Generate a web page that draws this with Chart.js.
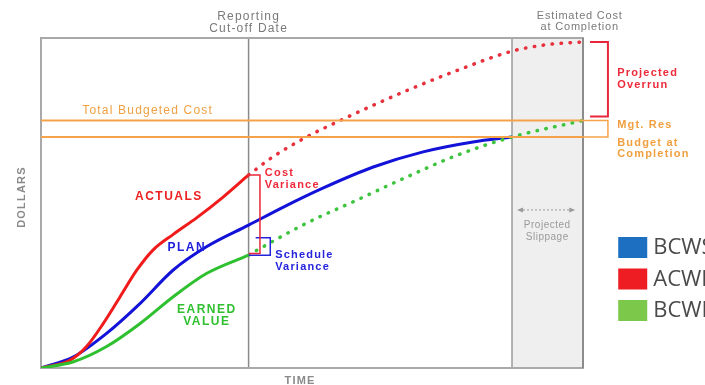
<!DOCTYPE html>
<html>
<head>
<meta charset="utf-8">
<script src="https://cdn.jsdelivr.net/npm/chart.js@4.4.0/dist/chart.umd.min.js"></script>
<style>
  html, body { margin: 0; padding: 0; background: #fff; }
  #wrap { width: 705px; height: 385px; position: relative; overflow: hidden; }
</style>
</head>
<body>
<div id="wrap"><canvas id="myChart"></canvas></div>
<script>
// time axis 0..100, dollars 0..100
const planTime  = [0, 6, 12.1, 18.3, 24.4, 30.6, 38.3, 45, 52, 61.3, 70.5, 79.7, 86.9];
const planValue = [0, 3.4, 10.5, 19.6, 29.7, 36.8, 43.3, 49, 54.5, 60.9, 65.5, 68.5, 70];

const actualTime  = [0, 5.4, 8.4, 11.5, 14.6, 17.7, 20.7, 24.4, 28.7, 33.6, 38.3];
const actualValue = [0, 2.4, 6.5, 13.5, 21.6, 29.7, 35.8, 40.5, 45.5, 51.8, 58.5];

const forecastTime  = [38.3, 42.8, 49, 55.2, 62.5, 68.1, 77.3, 86.9, 93.4, 100];
const forecastValue = [58.5, 64, 70, 75, 80.5, 84.5, 90.5, 96, 98, 98.8];

const earnedTime  = [0, 6, 12.1, 18.3, 24.4, 30.6, 38.3];
const earnedValue = [0, 1.9, 6.5, 13.5, 21.6, 28.7, 34.2];

const earnedProjTime  = [38.3, 40.4, 49, 58.3, 67.5, 76.8, 86.9, 100];
const earnedProjValue = [34.2, 36.2, 43.9, 50.9, 57.9, 64.5, 70, 75];

const cutoffTime = 38.3;
const slippageStart = 86.9;
const completionTime = 100;
const totalBudget = 75;
const budgetAtCompletion = 70;
const estimateAtCompletion = 98.8;

const legendLabels = ['BCWS', 'ACWP', 'BCWP'];
const legendColors = ['#1d6fc2', '#ee1d23', '#7cc84a'];

function pts(xs, ys){ return xs.map((x, i) => ({x: x, y: ys[i]})); }

// bracket shapes, built from the values above
const acLast = actualValue[actualValue.length-1];
const evLast = earnedValue[earnedValue.length-1];
const costBracket = pts([cutoffTime, 40.4, 40.4, cutoffTime], [acLast, acLast, evLast + 0.5, evLast + 0.5]);
const schedBracket = pts([39.6, 42.3, 42.3, cutoffTime], [39.5, 39.5, evLast, evLast]);
const overrunBracket = pts([101.3, 104.6, 104.6, 101.3], [estimateAtCompletion, estimateAtCompletion, totalBudget + 1.2, totalBudget + 1.2]);
const mgtBracket = pts([100, 104.6, 104.6, 100], [totalBudget, totalBudget, budgetAtCompletion, budgetAtCompletion]);

const solid = (data, color) => ({
    data: data, borderColor: color, borderWidth: 3, pointRadius: 0,
    cubicInterpolationMode: 'monotone', fill: false
});
const dotted = (data, color) => ({
    data: data, borderColor: color, borderWidth: 3.5, pointRadius: 0,
    borderDash: [0.5, 8.5], borderCapStyle: 'round',
    cubicInterpolationMode: 'monotone', fill: false, clip: false
});
const thin = (data, color, w) => ({
    data: data, borderColor: color, borderWidth: w, pointRadius: 0,
    tension: 0, fill: false, clip: false
});

const background = {
    id: 'background',
    beforeDatasetsDraw(chart){
        const c = chart.ctx, a = chart.chartArea;
        const X = v => chart.scales.x.getPixelForValue(v);
        c.save();
        // slippage band
        c.fillStyle = '#efefef';
        c.fillRect(X(slippageStart), a.top, X(completionTime) - X(slippageStart), a.bottom - a.top);
        c.strokeStyle = '#9a9a9a';
        c.lineWidth = 1.5;
        c.beginPath();
        c.moveTo(X(slippageStart), a.top); c.lineTo(X(slippageStart), a.bottom);
        c.stroke();
        // cut-off line
        c.strokeStyle = '#8a8a8a';
        c.beginPath();
        c.moveTo(X(cutoffTime), a.top); c.lineTo(X(cutoffTime), a.bottom);
        c.stroke();
        // frame
        c.strokeStyle = '#a9a9a9';
        c.lineWidth = 2;
        c.strokeRect(a.left, a.top, a.right - a.left, a.bottom - a.top);
        c.strokeStyle = '#8c8c8c';
        c.beginPath();
        c.moveTo(a.right, a.top); c.lineTo(a.right, a.bottom);
        c.stroke();
        c.restore();
    }
};

const labels = {
    id: 'labels',
    afterDatasetsDraw(chart){
        const c = chart.ctx, a = chart.chartArea;
        const X = v => chart.scales.x.getPixelForValue(v);
        const Y = v => chart.scales.y.getPixelForValue(v);
        const txt = (s, x, y, color, font, align, sp) => {
            c.fillStyle = color; c.font = font; c.textAlign = align || 'left';
            c.textBaseline = 'middle';
            c.letterSpacing = (sp === undefined ? 1.2 : sp) + 'px';
            c.fillText(s, x, y);
        };
        c.save();
        const f = 'Liberation Sans, Arial, sans-serif';
        txt('Reporting', X(cutoffTime), a.top - 21, '#7a7a7a', '12px ' + f, 'center');
        txt('Cut-off Date', X(cutoffTime), a.top - 9, '#7a7a7a', '12px ' + f, 'center');
        txt('Estimated Cost', X(99.4), a.top - 22, '#7a7a7a', '11px ' + f, 'center', 0.8);
        txt('at Completion', X(99.4), a.top - 11, '#7a7a7a', '11px ' + f, 'center', 0.8);
        txt('Total Budgeted Cost', X(7.6), Y(77.9), '#f0a040', '12px ' + f);
        txt('ACTUALS', X(23.6), Y(51.8), '#ee2020', 'bold 12px ' + f, 'center', 1.5);
        txt('PLAN', X(26.9), Y(36.4), '#2020dd', 'bold 12px ' + f, 'center', 1.5);
        txt('EARNED', X(30.6), Y(17.6), '#30c030', 'bold 12px ' + f, 'center', 1.5);
        txt('VALUE', X(30.6), Y(13.9), '#30c030', 'bold 12px ' + f, 'center', 1.5);
        txt('Cost', X(41.3), Y(59.1), '#ee2a3a', 'bold 11px ' + f);
        txt('Variance', X(41.3), Y(55.5), '#ee2a3a', 'bold 11px ' + f);
        txt('Schedule', X(43.2), Y(34.2), '#2424dd', 'bold 11px ' + f);
        txt('Variance', X(43.2), Y(30.6), '#2424dd', 'bold 11px ' + f);
        txt('Projected', X(106.3), Y(89.4), '#ee2a3a', 'bold 11px ' + f);
        txt('Overrun', X(106.3), Y(85.8), '#ee2a3a', 'bold 11px ' + f);
        txt('Mgt. Res', X(106.3), Y(73.6), '#f0a040', 'bold 11px ' + f);
        txt('Budget at', X(106.3), Y(68.2), '#f0a040', 'bold 11px ' + f);
        txt('Completion', X(106.3), Y(64.8), '#f0a040', 'bold 11px ' + f);
        // slippage arrow
        c.letterSpacing = '0px';
        c.strokeStyle = '#9a9a9a'; c.lineWidth = 1; c.setLineDash([2, 2]);
        c.beginPath(); c.moveTo(X(88.2), Y(47.9)); c.lineTo(X(98.2), Y(47.9)); c.stroke();
        c.setLineDash([]);
        c.fillStyle = '#9a9a9a';
        c.beginPath(); c.moveTo(X(88.2) - 2, Y(47.9)); c.lineTo(X(88.2) + 4, Y(47.9) - 2.5); c.lineTo(X(88.2) + 4, Y(47.9) + 2.5); c.fill();
        c.beginPath(); c.moveTo(X(98.2) + 2, Y(47.9)); c.lineTo(X(98.2) - 4, Y(47.9) - 2.5); c.lineTo(X(98.2) - 4, Y(47.9) + 2.5); c.fill();
        txt('Projected', X(93.4), Y(43.3), '#9a9a9a', '10px ' + f, 'center', 0.5);
        txt('Slippage', X(93.4), Y(39.7), '#9a9a9a', '10px ' + f, 'center', 0.5);
        // axis titles
        txt('TIME', X(47.8), a.bottom + 13, '#8a8a8a', 'bold 11px ' + f, 'center');
        c.save();
        c.translate(a.left - 19, Y(51.8));
        c.rotate(-Math.PI / 2);
        txt('DOLLARS', 0, 0, '#8a8a8a', 'bold 11px ' + f, 'center');
        c.restore();
        // legend
        legendLabels.forEach((s, i) => {
            const y = 247 + i * 31.5;
            c.fillStyle = legendColors[i];
            c.fillRect(X(106.5), y - 10, 29, 21);
            txt(s, X(106.5) + 35, y + 1, '#4a4a4a', '22px Open Sans, sans-serif', 'left', 0);
        });
        c.restore();
    }
};

const ctx = document.getElementById('myChart').getContext('2d');
const myChart = new Chart(ctx, {
    type: 'line',
    data: {
        datasets: [
            thin(pts([0, completionTime], [totalBudget, totalBudget]), '#f5a34a', 2),
            thin(pts([0, completionTime], [budgetAtCompletion, budgetAtCompletion]), '#f5a34a', 2),
            thin(mgtBracket, '#f5a34a', 1.5),
            thin(overrunBracket, '#e8283a', 2),
            thin(costBracket, '#e8283a', 1.5),
            thin(schedBracket, '#2424dd', 1.5),
            dotted(pts(forecastTime, forecastValue), '#e8303c'),
            dotted(pts(earnedProjTime, earnedProjValue), '#3cc43c'),
            solid(pts(earnedTime, earnedValue), '#2ec02e'),
            solid(pts(actualTime, actualValue), '#f01c1c'),
            solid(pts(planTime, planValue), '#1212d8')
        ]
    },
    options: {
        responsive: true,
        maintainAspectRatio: false,
        animation: false,
        layout: { padding: { left: 41, top: 38, right: 122, bottom: 17 } },
        scales: {
            x: { type: 'linear', min: 0, max: 100, display: false },
            y: { type: 'linear', min: 0, max: 100, display: false }
        },
        plugins: { legend: { display: false }, tooltip: { enabled: false } }
    },
    plugins: [background, labels]
});
</script>
</body>
</html>
